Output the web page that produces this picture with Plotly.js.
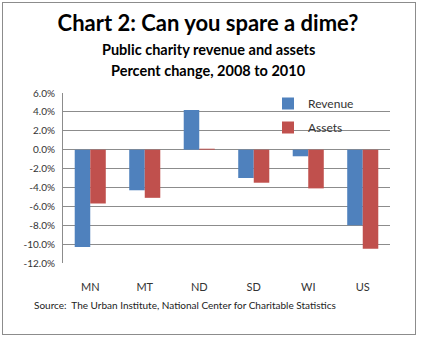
<!DOCTYPE html>
<html>
<head>
<meta charset="utf-8">
<script src="https://cdn.plot.ly/plotly-3.0.1.min.js"></script>
<style>
html,body{margin:0;padding:0;background:#fff;}
#wrap{position:relative;width:421px;height:337px;}
#chart{position:absolute;left:0;top:0;width:421px;height:337px;}
#frame{position:absolute;left:2px;top:2px;width:412px;height:331px;border:1px solid #8c8c8c;pointer-events:none;}
</style>
</head>
<body>
<div id="wrap"><div id="chart"></div><div id="frame"></div></div>
<script>
var categories = ["MN", "MT", "ND", "SD", "WI", "US"];
var revenue = [-10.3, -4.3, 4.2, -3.0, -0.7, -8.0];
var assets = [-5.7, -5.1, 0.1, -3.5, -4.1, -10.5];
var tickValues = [6, 4, 2, 0, -2, -4, -6, -8, -10, -12];
var tickLabels = ["6.0%", "4.0%", "2.0%", "0.0%", "-2.0%", "-4.0%", "-6.0%", "-8.0%", "-10.0%", "-12.0%"];

var FONT = "Lato, 'Open Sans', sans-serif";

var data = [
  {type: "bar", name: "Revenue", x: categories, y: revenue, marker: {color: "#4F81BD"}, legendgroup: "a"},
  {type: "bar", name: "Assets", x: categories, y: assets, marker: {color: "#C0504D"}, legendgroup: "b"}
];

var centerX = (208 - 63) / 327;

var layout = {
  width: 421, height: 337,
  margin: {l: 63, r: 31, t: 93, b: 74},
  paper_bgcolor: "#fff", plot_bgcolor: "#fff",
  font: {family: FONT, color: "#333", size: 11},
  barmode: "group",
  bargap: 0.43,
  bargroupgap: 0,
  title: {
    text: "<b>Chart 2: Can you spare a dime?</b>",
    font: {family: FONT, size: 22, color: "#000"},
    x: 208/421, xanchor: "center", xref: "container",
    y: 1 - 23/337, yanchor: "middle", yref: "container"
  },
  annotations: [
    {text: "<b>Public charity revenue and assets</b>", xref: "paper", yref: "paper",
     x: centerX, xanchor: "center", y: (263-49)/170, yanchor: "middle",
     showarrow: false, font: {family: FONT, size: 14.5, color: "#000"}},
    {text: "<b>Percent change, 2008 to 2010</b>", xref: "paper", yref: "paper",
     x: centerX, xanchor: "center", y: (263-70)/170, yanchor: "middle",
     showarrow: false, font: {family: FONT, size: 14.5, color: "#000"}},
    {text: "Source:  The Urban Institute, National Center for Charitable Statistics", xref: "paper", yref: "paper",
     x: (32-63)/327, xanchor: "left", y: (263-305)/170, yanchor: "middle",
     showarrow: false, font: {family: FONT, size: 10, color: "#222"}}
  ],
  xaxis: {
    type: "category",
    showgrid: false, showline: false, zeroline: false,
    ticks: "outside", ticklen: 14, tickcolor: "rgba(0,0,0,0)",
    tickfont: {family: FONT, size: 11, color: "#333"},
    fixedrange: true
  },
  yaxis: {
    range: [-12, 6],
    tickvals: tickValues, ticktext: tickLabels,
    showgrid: true, gridcolor: "#8c8c8c", gridwidth: 1,
    zeroline: false,
    showline: true, linecolor: "#8c8c8c", linewidth: 1,
    ticks: "outside", ticklen: 5, tickcolor: "rgba(0,0,0,0)",
    tickfont: {family: FONT, size: 10, color: "#333"},
    fixedrange: true
  },
  showlegend: true,
  legend: {
    x: (268-63)/327, xanchor: "left", y: (263-89)/170, yanchor: "top",
    bgcolor: "rgba(0,0,0,0)", borderwidth: 0,
    traceorder: "grouped", tracegroupgap: 5,
    font: {family: FONT, size: 12, color: "#333"},
    itemwidth: 30
  }
};

Plotly.newPlot("chart", data, layout, {displayModeBar: false, staticPlot: true});
</script>
</body>
</html>
